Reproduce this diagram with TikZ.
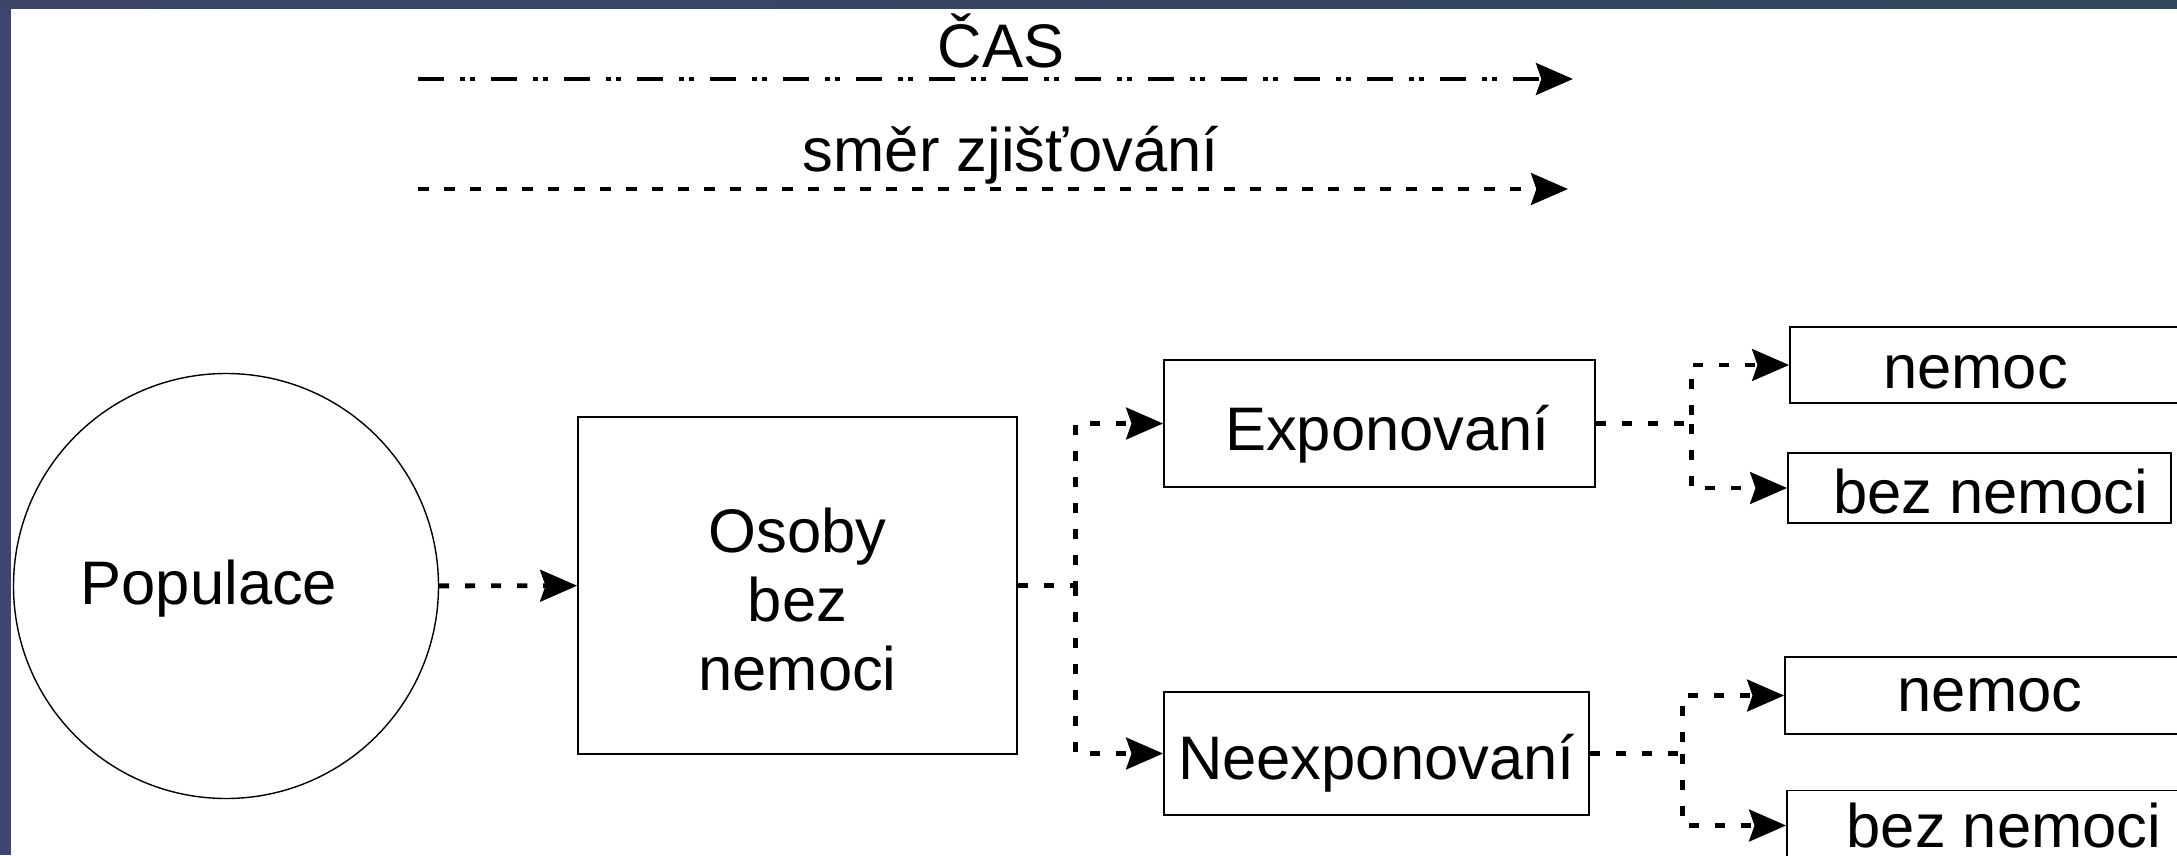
\documentclass[tikz,border=0pt]{standalone}
\usepackage{fontspec}
\setmainfont{Liberation Sans}
\usepackage{xcolor}
\usetikzlibrary{arrows.meta}
\usetikzlibrary{calc}
\definecolor{frameL}{HTML}{3D4670}
\definecolor{frameA}{HTML}{3A4568}
\definecolor{frameB}{HTML}{5C4F86}
\definecolor{frameC}{HTML}{33465D}

\begin{document}
\begin{tikzpicture}[line cap=butt,line join=miter,x=0.2cm,y=0.2cm,
		font=\fontsize{35}{39}\selectfont,
		>={Stealth[length=21pt,width=18pt,inset=3pt]},
		box/.style={draw=black,line width=1pt,rectangle,inner sep=0pt},
		flow/.style={->,line width=2.8pt,dash pattern=on 5.7pt off 9.1pt},
		probe/.style={->,line width=2.8pt,dash pattern=on 6.3pt off 8.5pt},
		timeline/.style={->,line width=2.8pt,dash pattern=on 14.8pt off 9.1pt on 2.85pt off 2.85pt on 2.85pt off 9.1pt}]
			\useasboundingbox (0,0) rectangle (217.7,85.5);
			\clip (0,0) rectangle (217.7,85.5);
			\fill[white] (0,0) rectangle (217.7,85.5);
			\fill[frameL] (0,0) rectangle (1.1,85.5);
			\shade[left color=frameA,middle color=frameB,right color=frameC] (0,84.6) rectangle (217.7,85.5);
			% time axes
			\node[anchor=base] (cas) at (100.1,78.7) {ČAS};
			\coordinate (casA) at (41.8,77.6);
			\coordinate (casB) at (157.3,77.6);
			\draw[timeline] (casA) -- (casB);
			\node[anchor=base] (smer) at (101.1,68.3) {směr zjišťování};
			\coordinate (smerA) at (41.8,66.6);
			\coordinate (smerB) at (156.8,66.6);
			\draw[probe] (smerA) -- (smerB);
			% groups
			\node[circle,draw=black,line width=0.8pt,minimum size=8.5cm,inner sep=0pt,
				label={[xshift=-0.34cm,yshift=-0.06cm]center:Populace}] (pop) at (22.6,26.9) {};
			\node[box,minimum width=8.78cm,minimum height=6.74cm,
				label={[align=center,yshift=-0.28cm]center:Osoby\\bez\\nemoci}] (osoby) at (79.75,26.95) {};
			\node[box,minimum width=8.62cm,minimum height=2.54cm,
				label={[xshift=0.16cm,yshift=-0.22cm]center:Exponovaní}] (expo) at (137.95,43.15) {};
			\node[box,minimum width=8.5cm,minimum height=2.46cm,
				label={[yshift=-0.2cm]center:Neexponovaní}] (neexpo) at (137.65,10.15) {};
			\node[box,minimum width=7.9cm,minimum height=1.52cm,
				label={[xshift=-0.24cm,yshift=-0.14cm]center:nemoc}] (nemA) at (198.75,49.0) {};
			\node[box,minimum width=7.66cm,minimum height=1.4cm,
				label={[xshift=0.22cm,yshift=-0.08cm]center:bez nemoci}] (bezA) at (197.95,36.7) {};
			\node[box,minimum width=8cm,minimum height=1.54cm,
				label={[xshift=0.1cm]center:nemoc}] (nemB) at (198.5,15.95) {};
			\node[box,minimum width=7.96cm,minimum height=1.4cm,
				label={[xshift=0.36cm]center:bez nemoci}] (bezB) at (198.6,2.95) {};
			% branches
			\coordinate (j1) at ($(osoby.east)+(5.8,0)$);
			\coordinate (j2) at ($(expo.east)+(9.6,0)$);
			\coordinate (j3) at ($(neexpo.east)+(9.3,0)$);
			\draw[flow] (pop) -- (osoby);
			\draw[flow] (osoby.east) -- (j1) |- (expo.west);
			\draw[flow] (j1) |- (neexpo.west);
			\draw[flow] (expo.east) -- (j2) |- (nemA.west);
			\draw[flow] (j2) |- (bezA.west);
			\draw[flow] (neexpo.east) -- (j3) |- (nemB.west);
			\draw[flow] (j3) |- (bezB.west);
			\end{tikzpicture}
\end{document}
